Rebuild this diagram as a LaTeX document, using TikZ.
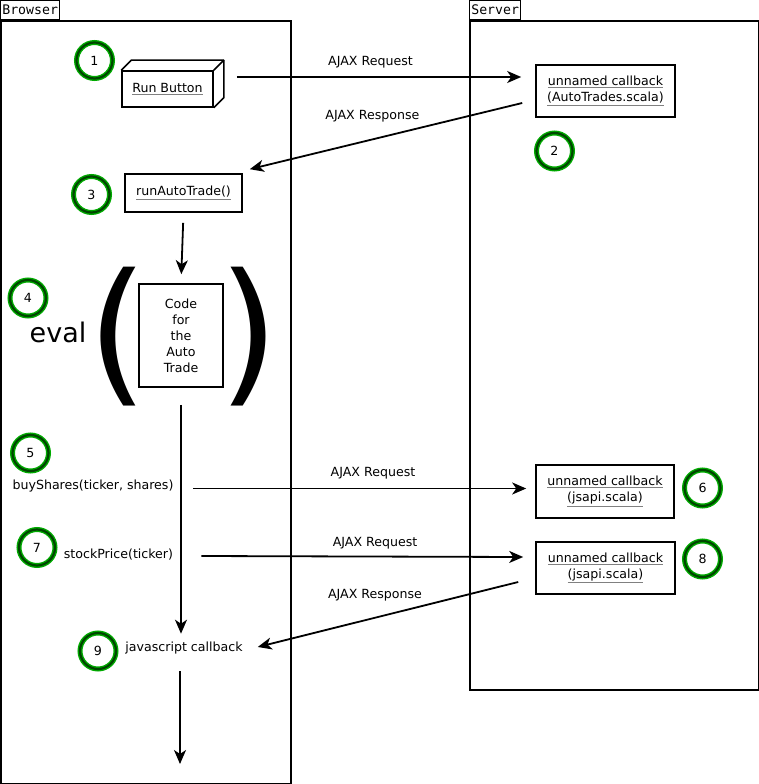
\documentclass[tikz,border=0pt]{standalone}
\usepackage{fontspec}
\setmainfont{DejaVu Sans}
\setmonofont{DejaVu Sans Mono}
\usetikzlibrary{positioning,arrows.meta}
\definecolor{ringlight}{RGB}{0,170,0}
\definecolor{ringdark}{RGB}{0,70,0}
\newcommand\ulgray[1]{\textcolor{gray}{$\underline{\hbox{\color{black}#1}}$}}
\tikzset{
  every node/.style={font=\fontsize{12.6}{16}\selectfont},
  frame/.style={draw,line width=1.8pt,anchor=north west,inner sep=0pt},
  tab/.style={draw,line width=1.3pt,inner sep=0pt,minimum height=19pt,font=\ttfamily\fontsize{13.2}{14}\selectfont},
  box/.style={draw,line width=1.6pt,align=center,inner sep=2pt},
  lbl/.style={inner sep=0pt},
  num/.style={circle,draw=ringlight,double=ringdark,line width=1.4pt,double distance=2.2pt,minimum size=36pt,inner sep=0pt},
  arr/.style={-{Stealth[length=14pt,width=12pt,inset=4pt]},line width=1.8pt}
}

\begin{document}
\begin{tikzpicture}[x=1pt,y=-1pt]
\useasboundingbox (0,0) rectangle (759,784);
% swimlanes
\node[frame,minimum width=290pt,minimum height=763pt] (browser) at (0,20) {};
\node[tab,minimum width=59pt,above right=0pt of browser.north west] (btab) {Browser};
\node[frame,minimum width=289pt,minimum height=669pt] (server) at (469,20) {};
\node[tab,minimum width=51pt,above right=0pt of server.north west] (stab) {Server};

% browser side
\node[box,minimum width=91pt,minimum height=36pt] (run) at (167.5,89) {\ulgray{Run Button}};
\draw[line width=1.6pt,line join=round] (run.north west) -- ++(10,-10) -| ([shift={(10,-10)}]run.south east) -- (run.south east);
\draw[line width=1.6pt] (run.north east) -- ++(10,-10);
\node[box,minimum width=117pt,minimum height=38pt] (rat) at (183.5,193) {\ulgray{runAutoTrade()}};
\node[box,minimum width=84pt,minimum height=103pt] (code) at (181,335.5) {Code\\for\\the\\Auto\\Trade};
\node[lbl,font=\fontsize{156}{156}\selectfont] (lpar) at (118,337) {(};
\node[lbl,font=\fontsize{156}{156}\selectfont] (rpar) at (249,337) {)};
\node[lbl,font=\fontsize{27}{30}\selectfont] (eval) at (58,332) {eval};
\node[lbl] (buy) at (93,486) {buyShares(ticker, shares)};
\node[lbl] (stock) at (118.5,555) {stockPrice(ticker)};
\node[lbl] (js) at (184,648) {javascript callback};
\coordinate (exit) at (180,764);

% server side
\node[box,minimum width=139pt,minimum height=52pt] (cb1) at (605.5,91) {\ulgray{unnamed callback}\\\ulgray{(AutoTrades.scala)}};
\node[box,minimum width=138pt,minimum height=53pt] (cb6) at (605,491.5) {\ulgray{unnamed callback}\\\ulgray{(jsapi.scala)}};
\node[box,minimum width=139pt,minimum height=52pt] (cb8) at (605.5,568) {\ulgray{unnamed callback}\\\ulgray{(jsapi.scala)}};

% step numbers
\node[num] (n1) at (94.5,60.5) {1};
\node[num] (n2) at (554.5,151) {2};
\node[num] (n3) at (91.5,194.5) {3};
\node[num] (n4) at (28,298) {4};
\node[num] (n5) at (30.5,453) {5};
\node[num] (n6) at (702.5,488) {6};
\node[num] (n7) at (37,547.5) {7};
\node[num] (n8) at (702.5,559) {8};
\node[num] (n9) at (98,651) {9};

% messages
\draw[arr] ([shift={(23,-12)}]run.east) -- node[pos=0.47,above=5pt] {AJAX Request} ([shift={(-14,-14)}]cb1.west);
\draw[arr] ([shift={(-13,12)}]cb1.west) -- node[pos=0.55,above=13pt] {AJAX Response} ([shift={(7,-4)}]rat.north east);
\draw[arr,shorten <=10pt,shorten >=9pt] (rat.south) -- (code.north);
\draw[arr,shorten <=17pt,shorten >=8pt] (code.south) -- (code.south |- js.north);
\draw[arr] ([shift={(19.5,2.5)}]buy.east) -- node[pos=0.54,above=5pt] {AJAX Request} ([shift={(-9,-3)}]cb6.west);
\draw[arr] ([shift={(28,1)}]stock.east) -- node[pos=0.54,above=3pt] {AJAX Request} ([shift={(-12,-11)}]cb8.west);
\draw[arr] ([shift={(-17,14)}]cb8.west) -- node[pos=0.55,above=12pt] {AJAX Response} ([shift={(15,-1)}]js.east);
\draw[arr,shorten <=17pt] (js.south -| exit) -- (exit);
\end{tikzpicture}
\end{document}
